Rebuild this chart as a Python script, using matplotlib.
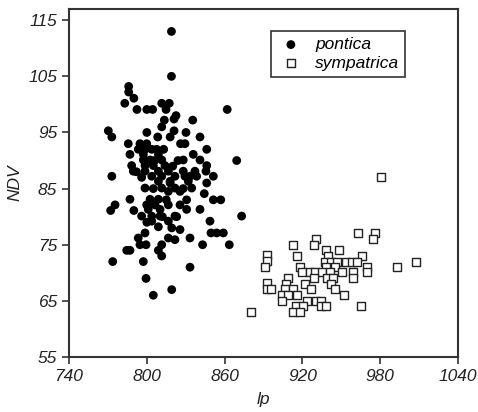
import matplotlib
matplotlib.use("Agg")
import matplotlib.pyplot as plt

# pontica (lp, NDV)
pontica_lp = [819, 819, 786, 786, 790, 783, 792.4, 800, 804.5, 811.5, 817.3, 814.8, 862, 822.5, 821,
              813.5, 835.4, 811.5, 770.3, 773, 821, 818, 830.2, 841, 808.4,
              829.4, 785.7, 794.7, 799.9, 793.4, 798.6, 803.8, 807.6, 846.2, 787, 797.3, 808.9, 835.8,
              797.3, 802.5, 811.5, 828.1, 841, 869.3, 788.3, 798.6, 805, 814, 846.2, 798.6, 808.9,
              816.6, 828.1, 837.1, 789.6, 845.6, 773, 803.8, 811.5, 821.7, 829.4, 838.4, 851.3, 833.3,
              808.9, 817.9, 832, 846.2, 798.6, 811.5, 821.7, 834.6, 816.6, 825.6, 844.3, 787, 802.5,
              808.9, 830.7, 851.3, 857, 799.9, 806.3, 816.6, 825.6, 775.5, 772.1, 790, 801.1, 810.2,
              830.7, 841, 796, 803.8, 810.2, 821.7, 873.1, 848.7, 803.8, 816.6, 808.9, 819.2, 825.6,
              798.6, 849.5, 853.9, 859, 793.4, 816.6, 821.7, 833.3, 794.7, 799.4, 843, 863.6, 811.5,
              784.5, 787, 808.9, 811.5, 773.7, 797.3, 833.3, 799.4, 819.2, 805,
              805, 813, 824, 826, 800, 796, 815, 820, 792, 806, 812, 823, 800, 818, 828]
pontica_ndv = [113, 105, 103.2, 102.2, 101.1, 100.2, 99.1, 99.1, 99.1, 100.2, 100.2, 99.1, 99.1, 98, 97.4,
               97.2, 97.2, 96, 95.3, 94.2, 95.3, 94.2, 95, 94.2, 94.2,
               93, 93, 93, 93, 92, 92, 92, 92, 92, 91.1, 91.1, 91.1, 91.1,
               90.1, 90.1, 90.1, 90.1, 90.1, 90, 89.1, 89.1, 89.1, 89.1, 89.1, 88.1, 88.1,
               88.1, 88.1, 88.1, 88.1, 88.1, 87.2, 87.2, 87.2, 87.2, 87.2, 87.2, 87.2, 87.2,
               86.3, 86.3, 86.3, 86, 85.1, 85.1, 85.1, 85.1, 84.5, 84.5, 84.1, 83.1, 83.1,
               83.1, 83, 83, 83, 82.1, 82.1, 82.1, 82.1, 82.1, 81.1, 81.1, 81.3, 81.3,
               81.3, 81.3, 80.1, 80.1, 80.1, 80.1, 80.1, 79.2, 79.2, 79.2, 78.2, 78, 77.7,
               77.1, 77.1, 77.1, 77.1, 76.2, 76.2, 75.9, 76.2, 75, 75, 75, 75, 75,
               74, 74, 74, 73, 72, 72, 71, 69, 67, 66,
               85, 92, 90, 93, 95, 87, 83, 89, 88, 90, 80, 80, 79, 86, 85]

# sympatrica (lp, NDV)
sympatrica_lp = [980.8, 963, 975.7, 974.1, 930.4, 928.9, 912.5, 938.2, 948.4, 940, 916, 892.9, 892.9,
                 891.1, 965.7, 937.4, 941.8, 946.4, 953.6, 958, 961.8, 1007.5, 993.1, 969.5, 918.1,
                 938.2, 945.1, 919.9, 925.8, 929.7, 934.8, 941.2, 950.2, 959.2, 969.5, 909.1, 928.9,
                 939.1, 943.3, 959.2, 892.9, 907.3, 922, 941.8, 892.9, 895.5, 906.5, 913, 926.3, 945.1,
                 904, 909.1, 916, 952, 904, 923.3, 930.4, 934, 915, 920.2, 934, 938.2, 964.9, 880,
                 912.5, 918.1]
sympatrica_ndv = [87.1, 77.1, 77.1, 76, 76.1, 75, 75, 74, 74, 73, 73, 73.1, 72.1,
                  71.1, 73, 72, 72, 72, 72, 72, 72, 72, 71.1, 71.1, 71.1,
                  71.1, 71.1, 70.1, 70.1, 70.1, 70.1, 70.1, 70.1, 70.1, 70.1, 69.1, 69.1,
                  69.1, 69.1, 69, 68.1, 68, 68, 68, 67.1, 67.1, 67.1, 67.1, 67.1, 67.1,
                  66.1, 66.1, 66.1, 66.1, 65, 65, 65, 65, 64, 64, 64, 64, 64, 63,
                  63, 63]

x_ticks = [740, 800, 860, 920, 980, 1040]
y_ticks = [55, 65, 75, 85, 95, 105, 115]

plt.rcParams['font.family'] = ['Liberation Sans', 'DejaVu Sans']

fig = plt.figure(figsize=(4.78, 4.12), dpi=100)
ax = fig.add_axes([0.1444, 0.1335, 0.8138, 0.8447])

ax.scatter(pontica_lp, pontica_ndv, s=40, marker='o', c='black', edgecolors='none',
           label='pontica', zorder=3)
ax.scatter(sympatrica_lp, sympatrica_ndv, s=28, marker='s', facecolors='white',
           edgecolors='#222222', linewidths=1.0, label='sympatrica', zorder=3)

ax.set_xlim(740, 1040)
ax.set_ylim(55, 117)
ax.set_xticks(x_ticks)
ax.set_yticks(y_ticks)
ax.tick_params(direction='out', length=5, width=1.2, colors='#333333', labelcolor='#222222',
               labelsize=12.5)
for lab in ax.get_xticklabels() + ax.get_yticklabels():
    lab.set_fontstyle('italic')
for sp in ax.spines.values():
    sp.set_linewidth(1.5)
    sp.set_color('#333333')

ax.set_xlabel('lp', fontsize=12.5, fontstyle='italic', color='#222222', labelpad=6)
ax.set_ylabel('NDV', fontsize=12.5, fontstyle='italic', color='#222222', labelpad=4)

leg = ax.legend(loc='upper left', bbox_to_anchor=(0.519, 0.937), borderaxespad=0,
                frameon=True, fancybox=False, edgecolor='black',
                prop={'style': 'italic', 'size': 12.5}, handletextpad=0.6,
                borderpad=0.35, labelspacing=0.2, handlelength=1.6)
leg.get_frame().set_linewidth(1.2)

fig.savefig('out.png', dpi=100)
